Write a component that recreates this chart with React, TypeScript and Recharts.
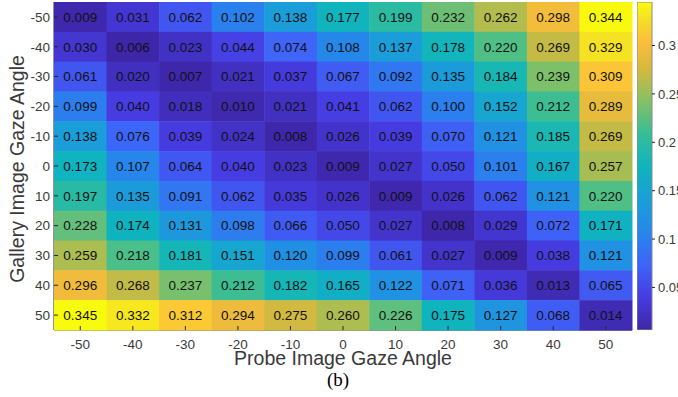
import React from "react";
import { ScatterChart, Scatter, XAxis, YAxis, BarChart, Bar } from "recharts";

// gaze angles (degrees)
const probeAngles = [-50, -40, -30, -20, -10, 0, 10, 20, 30, 40, 50];
const galleryAngles = [-50, -40, -30, -20, -10, 0, 10, 20, 30, 40, 50];

// one row per gallery angle, columns follow probeAngles
const rowM50 = [0.009, 0.031, 0.062, 0.102, 0.138, 0.177, 0.199, 0.232, 0.262, 0.298, 0.344];
const rowM40 = [0.030, 0.006, 0.023, 0.044, 0.074, 0.108, 0.137, 0.178, 0.220, 0.269, 0.329];
const rowM30 = [0.061, 0.020, 0.007, 0.021, 0.037, 0.067, 0.092, 0.135, 0.184, 0.239, 0.309];
const rowM20 = [0.099, 0.040, 0.018, 0.010, 0.021, 0.041, 0.062, 0.100, 0.152, 0.212, 0.289];
const rowM10 = [0.138, 0.076, 0.039, 0.024, 0.008, 0.026, 0.039, 0.070, 0.121, 0.185, 0.269];
const row0 = [0.173, 0.107, 0.064, 0.040, 0.023, 0.009, 0.027, 0.050, 0.101, 0.167, 0.257];
const row10 = [0.197, 0.135, 0.091, 0.062, 0.035, 0.026, 0.009, 0.026, 0.062, 0.121, 0.220];
const row20 = [0.228, 0.174, 0.131, 0.098, 0.066, 0.050, 0.027, 0.008, 0.029, 0.072, 0.171];
const row30 = [0.259, 0.218, 0.181, 0.151, 0.120, 0.099, 0.061, 0.027, 0.009, 0.038, 0.121];
const row40 = [0.296, 0.268, 0.237, 0.212, 0.182, 0.165, 0.122, 0.071, 0.036, 0.013, 0.065];
const row50 = [0.345, 0.332, 0.312, 0.294, 0.275, 0.260, 0.226, 0.175, 0.127, 0.068, 0.014];

const rows = [rowM50, rowM40, rowM30, rowM20, rowM10, row0, row10, row20, row30, row40, row50];

const colorbarTicks = [0.05, 0.1, 0.15, 0.2, 0.25, 0.3];

const allValues = rows.flat();
const CMIN = Math.min(...allValues);
const CMAX = Math.max(...allValues);

const cells = galleryAngles.flatMap((g, i) =>
    rows[i].map((v, j) => ({ x: probeAngles[j], y: g, v }))
);

// parula-like colormap
const parula: [number, number, number, number][] = [
    [0.0, 62, 38, 168],
    [0.1, 70, 60, 225],
    [0.2, 62, 100, 248],
    [0.3, 38, 135, 235],
    [0.4, 25, 160, 215],
    [0.5, 15, 180, 190],
    [0.6, 55, 190, 150],
    [0.7, 135, 192, 100],
    [0.8, 215, 185, 60],
    [0.88, 252, 190, 60],
    [0.95, 245, 225, 35],
    [1.0, 249, 251, 14],
];

function colorAt(t: number) {
    t = Math.max(0, Math.min(1, t));
    for (let i = 1; i < parula.length; i++) {
        const a = parula[i - 1];
        const b = parula[i];
        if (t <= b[0]) {
            const f = (t - a[0]) / (b[0] - a[0]);
            const c = [1, 2, 3].map((k) => Math.round(a[k] + (b[k] - a[k]) * f));
            return `rgb(${c[0]},${c[1]},${c[2]})`;
        }
    }
    return "rgb(249,251,14)";
}

const colorOf = (v: number) => colorAt((v - CMIN) / (CMAX - CMIN));

const W = 678;
const H = 397;
const M = { top: 2, right: 46, bottom: 0, left: 0 };
const X_AXIS_H = 67;
const Y_AXIS_W = 54;
const plotW = W - M.left - M.right - Y_AXIS_W;
const plotH = H - M.top - M.bottom - X_AXIS_H;
const cellW = plotW / probeAngles.length;
const cellH = plotH / galleryAngles.length;

const FONT = '"Liberation Sans", Arial, Helvetica, sans-serif';
const AXIS_COLOR = "#262626";
const TICK_TEXT = "#3a3a3a";

const HeatCell = (props: any) => {
    const { cx, cy, payload } = props;
    if (cx == null || cy == null) return null;
    return (
        <g>
            <rect
                x={cx - cellW / 2}
                y={cy - cellH / 2}
                width={cellW + 0.5}
                height={cellH + 0.5}
                fill={colorOf(payload.v)}
            />
            <text x={cx} y={cy} dy="0.36em" textAnchor="middle" fontSize={13.5} fontFamily={FONT} fill="#111">
                {payload.v.toFixed(3)}
            </text>
        </g>
    );
};

const BottomTick = (props: any) => {
    const { x, y, payload } = props;
    return (
        <g>
            <line x1={x} y1={y} x2={x} y2={y - 4} stroke={AXIS_COLOR} />
            <text x={x} y={y + 19} textAnchor="middle" fontSize={13.5} fontFamily={FONT} fill={TICK_TEXT}>
                {payload.value}
            </text>
        </g>
    );
};

const TopTick = (props: any) => {
    const { x, y } = props;
    return <line x1={x} y1={y} x2={x} y2={y + 4} stroke={AXIS_COLOR} />;
};

const LeftTick = (props: any) => {
    const { x, y, payload } = props;
    return (
        <g>
            <line x1={x} y1={y} x2={x + 4} y2={y} stroke={AXIS_COLOR} />
            <text x={x - 4} y={y} dy="0.36em" textAnchor="end" fontSize={13.5} fontFamily={FONT} fill={TICK_TEXT}>
                {payload.value}
            </text>
        </g>
    );
};

const RightTick = (props: any) => {
    const { x, y } = props;
    return <line x1={x} y1={y} x2={x - 4} y2={y} stroke={AXIS_COLOR} />;
};

const colorbarData = [{ k: "cb", range: [CMIN, CMAX] }];

export default function App() {
    return (
        <div
            style={{
                position: "absolute",
                left: 0,
                top: 0,
                width: W,
                height: H,
                overflow: "hidden",
                background: "#fff",
                fontFamily: FONT,
            }}
        >
            <ScatterChart width={W} height={H} margin={M}>
                <Scatter data={cells} dataKey="v" shape={<HeatCell />} isAnimationActive={false} />
                <XAxis
                    type="number"
                    dataKey="x"
                    domain={[-55, 55]}
                    ticks={probeAngles}
                    height={X_AXIS_H}
                    tickSize={0}
                    tickMargin={0}
                    tickLine={false}
                    tick={<BottomTick />}
                    axisLine={{ stroke: AXIS_COLOR }}
                    label={{
                        value: "Probe Image Gaze Angle",
                        position: "insideBottom",
                        offset: 32,
                        fontSize: 19.5,
                        fill: TICK_TEXT,
                        fontFamily: FONT,
                    }}
                />
                <XAxis
                    xAxisId="top"
                    orientation="top"
                    type="number"
                    domain={[-55, 55]}
                    ticks={probeAngles}
                    height={0}
                    tickSize={0}
                    tickLine={false}
                    tick={<TopTick />}
                    axisLine={{ stroke: AXIS_COLOR }}
                />
                <YAxis
                    type="number"
                    dataKey="y"
                    domain={[-55, 55]}
                    reversed
                    ticks={galleryAngles}
                    width={Y_AXIS_W}
                    tickSize={0}
                    tickMargin={0}
                    tickLine={false}
                    tick={<LeftTick />}
                    axisLine={{ stroke: AXIS_COLOR }}
                    label={{
                        value: "Gallery Image Gaze Angle",
                        angle: -90,
                        position: "insideLeft",
                        offset: 17,
                        dy: 3,
                        fontSize: 19.5,
                        fill: TICK_TEXT,
                        fontFamily: FONT,
                        style: { textAnchor: "middle" },
                    }}
                />
                <YAxis
                    yAxisId="right"
                    orientation="right"
                    type="number"
                    domain={[-55, 55]}
                    reversed
                    ticks={galleryAngles}
                    width={0}
                    tickSize={0}
                    tickLine={false}
                    tick={<RightTick />}
                    axisLine={{ stroke: AXIS_COLOR }}
                />
            </ScatterChart>

            <div style={{ position: "absolute", left: 637, top: 0 }}>
                <BarChart
                    width={41}
                    height={H}
                    data={colorbarData}
                    margin={{ top: 2, right: 0, bottom: 67, left: 0 }}
                    barCategoryGap={0}
                >
                    <defs>
                        <linearGradient id="parulaGrad" x1="0" y1="1" x2="0" y2="0">
                            {parula.map((s) => (
                                <stop key={s[0]} offset={s[0]} stopColor={`rgb(${s[1]},${s[2]},${s[3]})`} />
                            ))}
                        </linearGradient>
                    </defs>
                    <XAxis dataKey="k" hide />
                    <YAxis
                        orientation="right"
                        type="number"
                        domain={[CMIN, CMAX]}
                        allowDataOverflow
                        ticks={colorbarTicks}
                        width={26}
                        tickSize={3}
                        tickMargin={3}
                        axisLine={false}
                        tickLine={{ stroke: AXIS_COLOR }}
                        tick={{ fontSize: 13, fill: TICK_TEXT, fontFamily: FONT, textAnchor: "start" }}
                    />
                    <Bar
                        dataKey="range"
                        fill="url(#parulaGrad)"
                        stroke="#8a8a8a"
                        strokeWidth={1}
                        isAnimationActive={false}
                    />
                </BarChart>
            </div>

            <div
                style={{
                    position: "absolute",
                    left: 0,
                    width: 676,
                    top: 369,
                    height: 28,
                    background: "#fff",
                    textAlign: "center",
                    fontFamily: '"Liberation Serif", "Times New Roman", serif',
                    fontSize: 19,
                    lineHeight: "22px",
                    color: "#000",
                }}
            >
                (b)
            </div>
        </div>
    );
}
